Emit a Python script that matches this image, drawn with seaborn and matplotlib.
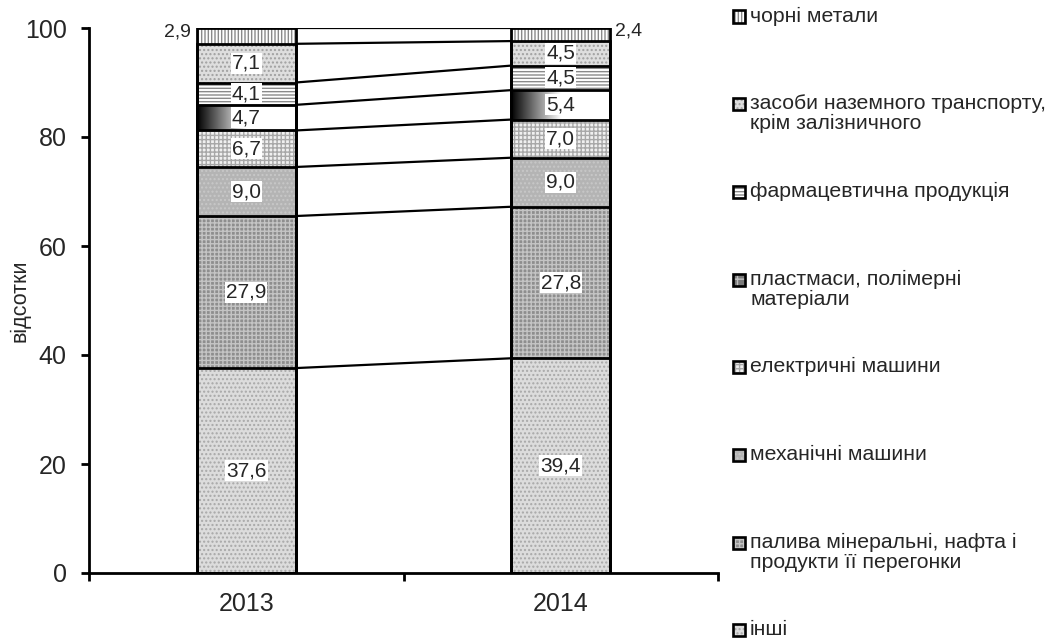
import numpy as np
import pandas as pd
import matplotlib
matplotlib.use("Agg")
import matplotlib.pyplot as plt
from matplotlib.patches import Rectangle
import seaborn as sns

# ---- data (shares of imports, %) ----
years = ["2013", "2014"]
# stacked from the bottom up
series_names = [
    "інші",
    "палива мінеральні, нафта і\nпродукти її перегонки",
    "механічні машини",
    "електричні машини",
    "пластмаси, полімерні\nматеріали",
    "фармацевтична продукція",
    "засоби наземного транспорту,\nкрім залізничного",
    "чорні метали",
]
other_vals = [37.6, 39.4]
fuel_vals = [27.9, 27.8]
mech_vals = [9.0, 9.0]
elec_vals = [6.7, 7.0]
plast_vals = [4.7, 5.4]
pharm_vals = [4.1, 4.5]
transport_vals = [7.1, 4.5]
metal_vals = [2.9, 2.4]
values = [other_vals, fuel_vals, mech_vals, elec_vals,
          plast_vals, pharm_vals, transport_vals, metal_vals]

# ---- fill styles: (face colour, hatch, hatch colour) ----
styles = [
    ("#dcdcdc", "....", "#a8a8a8"),
    ("#8e8e8e", "++++", "#c4c4c4"),
    ("#b4b4b4", "....", "#c8c8c8"),
    ("#f0f0f0", "++++", "#a8a8a8"),
    ("gradient", "", "#000000"),
    ("#ffffff", "-----", "#8a8a8a"),
    ("#dedede", "....", "#a0a0a0"),
    ("#ffffff", "|||||", "#8a8a8a"),
]
legend_styles = list(styles)
legend_styles[4] = ("#7a7a7a", "++", "#c0c0c0")

sns.set_style("ticks")
plt.rcParams["font.family"] = ["Liberation Sans", "DejaVu Sans"]
plt.rcParams["hatch.linewidth"] = 1.0

W, H = 1054, 639
fig = plt.figure(figsize=(W / 100, H / 100), dpi=100)
ax = fig.add_axes([89 / W, 1 - 573 / H, (718 - 89) / W, (573 - 28) / H])

vals = np.array(values)
cums = np.cumsum(vals, axis=0)
bar_w = 0.315

# fills: draw cumulative totals from the top series down so each
# lower series covers the part of the bar below its own top
for i in range(len(series_names) - 1, -1, -1):
    face, hatch, hcol = styles[i]
    df = pd.DataFrame({"year": years, "cum": cums[i]})
    n0 = len(ax.patches)
    sns.barplot(data=df, x="year", y="cum", ax=ax, width=bar_w,
                color="white" if face == "gradient" else face,
                saturation=1, errorbar=None)
    new = ax.patches[n0:]
    for p in new:
        p.set_linewidth(0)
        if face == "gradient":
            p.set_facecolor("none")
            x0, w, h = p.get_x(), p.get_width(), p.get_height()
            grad = np.clip(np.linspace(0, 2.0, 256), 0, 1)[None, :]
            im = ax.imshow(grad, cmap="gray", vmin=0, vmax=1, aspect="auto",
                           extent=(x0, x0 + w, 0, h), zorder=1,
                           interpolation="bilinear")
            im.set_clip_path(p)
        else:
            p.set_hatch(hatch)
            p.set_edgecolor(hcol)

# outlines of every segment
for i in range(len(series_names)):
    df = pd.DataFrame({"year": years, "cum": cums[i]})
    sns.barplot(data=df, x="year", y="cum", ax=ax, width=bar_w,
                fill=False, color="black", linewidth=2, errorbar=None)
for p in ax.patches[-2 * len(series_names):]:
    p.set_zorder(3)

# connector lines between the stacks
first = ax.patches[-2]
second = ax.patches[-1]
x_left = first.get_x() + first.get_width()
x_right = second.get_x()
for i in range(len(series_names)):
    ax.plot([x_left, x_right], [cums[i][0], cums[i][1]],
            color="black", lw=1.6, zorder=3, solid_capstyle="butt")

# value labels
def fmt(v):
    return f"{v:.1f}".replace(".", ",")

for i in range(len(series_names)):
    for j in range(len(years)):
        v = values[i][j]
        yc = cums[i][j] - v / 2
        if i == len(series_names) - 1:
            if j == 0:
                ax.text(x_left - bar_w - 0.017, yc + 0.7, fmt(v), ha="right",
                        va="center", fontsize=14, zorder=5)
            else:
                ax.text(x_right + bar_w + 0.014, yc + 0.7, fmt(v), ha="left",
                        va="center", fontsize=14, zorder=5)
        else:
            ax.text(j, yc, fmt(v), ha="center", va="center", fontsize=15,
                    zorder=5,
                    bbox=dict(facecolor="white", edgecolor="none", pad=0.8))

# axes styling
ax.set_xlim(-0.5, 1.5)
ax.set_ylim(0, 100)
ax.set_yticks([0, 20, 40, 60, 80, 100])
ax.set_xticks([0, 1])
ax.set_xticklabels(years)
ax.set_xticks([-0.5, 0.5, 1.5], minor=True)
ax.tick_params(axis="x", which="major", length=0, pad=14, labelsize=18)
ax.tick_params(axis="x", which="minor", length=6, width=2, direction="out",
               color="black")
ax.tick_params(axis="y", which="major", length=6, width=2, direction="out",
               pad=10, labelsize=18, color="black")
ax.set_xlabel("")
ax.set_ylabel("відсотки", fontsize=15.5, labelpad=-4)
sns.despine(ax=ax)
for s in ("left", "bottom"):
    ax.spines[s].set_linewidth(2)
    ax.spines[s].set_color("black")
    ax.spines[s].set_zorder(4)

# legend, top entry first
order = list(range(len(series_names) - 1, -1, -1))
slot = 87.7
for k, i in enumerate(order):
    yc = 16 + k * slot
    face, hatch, hcol = legend_styles[i]
    box = (733 / W, 1 - (yc + 6.5) / H)
    fig.add_artist(Rectangle(box, 12 / W, 12 / H,
                             transform=fig.transFigure, facecolor=face,
                             hatch=hatch, edgecolor=hcol, linewidth=0))
    fig.add_artist(Rectangle(box, 12 / W, 12 / H,
                             transform=fig.transFigure, facecolor="none",
                             edgecolor="black", linewidth=1.9))
    fig.text(750 / W, 1 - (yc - 9.5) / H, series_names[i], ha="left",
             va="top", fontsize=15.3, linespacing=1.08)

fig.savefig("out.png", dpi=100)
